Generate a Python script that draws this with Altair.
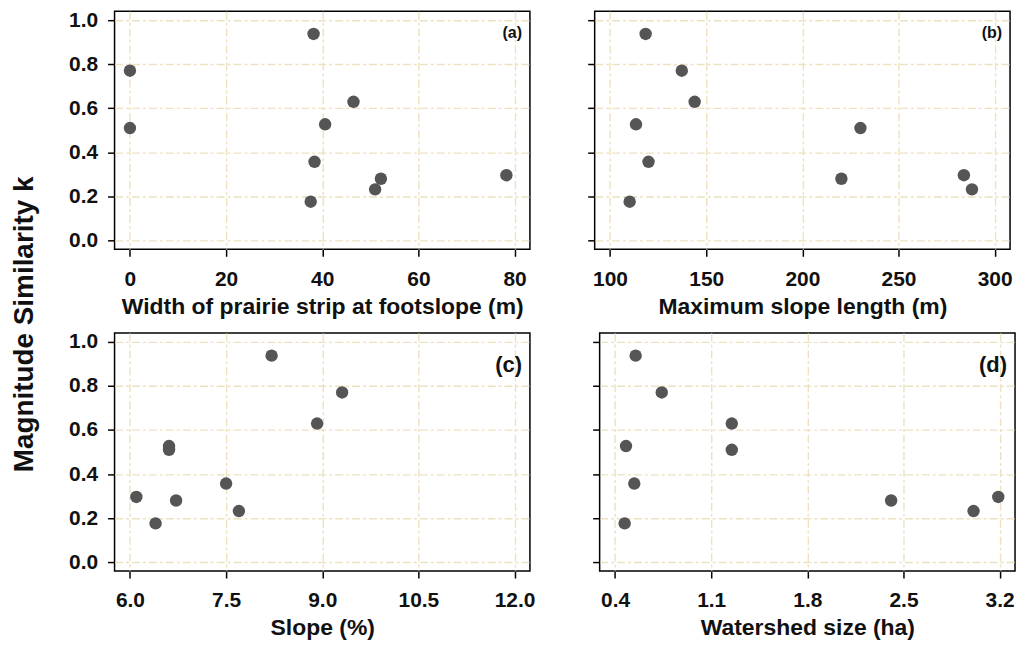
import altair as alt
import pandas as pd

# ---- data ----
k_values = [0.937, 0.770, 0.629, 0.527, 0.510, 0.357, 0.296, 0.280, 0.232, 0.176]
strip_width = [38.2, 0.0, 46.5, 40.6, 0.0, 38.4, 78.3, 52.2, 51.0, 37.6]
slope_length = [118.5, 137.3, 144.0, 113.5, 230.2, 120.0, 284.0, 220.3, 288.2, 110.2]
slope_pct = [8.21, 9.31, 8.92, 6.61, 6.61, 7.50, 6.10, 6.72, 7.70, 6.40]
watershed_ha = [0.55, 0.74, 1.25, 0.48, 1.25, 0.54, 3.19, 2.41, 3.01, 0.47]

panel_labels = ["(a)", "(b)", "(c)", "(d)"]
x_titles = [
    "Width of prairie strip at footslope (m)",
    "Maximum slope length (m)",
    "Slope (%)",
    "Watershed size (ha)",
]
x_ticks = [
    [0, 20, 40, 60, 80],
    [100, 150, 200, 250, 300],
    [6.0, 7.5, 9.0, 10.5, 12.0],
    [0.4, 1.1, 1.8, 2.5, 3.2],
]
x_formats = ["d", "d", ".1f", ".1f"]
y_ticks = [0.0, 0.2, 0.4, 0.6, 0.8, 1.0]

df = pd.DataFrame({
    "k": k_values,
    "a": strip_width,
    "b": slope_length,
    "c": slope_pct,
    "d": watershed_ha,
})

FONT = "Liberation Sans"
W, H = 417, 239


def panel(col, idx, show_y_labels, lab_size, lab_y):
    xt = x_ticks[idx]
    lo, hi = xt[0], xt[-1]
    pad = 0.04 * (hi - lo)
    x = alt.X(
        f"{col}:Q",
        scale=alt.Scale(domain=[lo - pad, hi + pad], nice=False, zero=False),
        axis=alt.Axis(values=xt, format=x_formats[idx], title=x_titles[idx]),
    )
    y = alt.Y(
        "k:Q",
        scale=alt.Scale(domain=[-0.04, 1.04], nice=False, zero=False),
        axis=alt.Axis(values=y_ticks, format=".1f", title=None, labels=show_y_labels),
    )
    pts = alt.Chart(df).mark_circle(size=155, color="#555555", opacity=1).encode(x=x, y=y)
    txt = alt.Chart(pd.DataFrame({"t": [panel_labels[idx]]})).mark_text(
        align="right", baseline="middle", font=FONT, fontWeight="bold",
        fontSize=lab_size, color="#111111",
    ).encode(text="t:N", x=alt.value(W - 8), y=alt.value(lab_y))
    return alt.layer(pts, txt).properties(width=W, height=H)


pa = panel("a", 0, True, 16, 22)
pb = panel("b", 1, False, 16, 22)
pc = panel("c", 2, True, 22, 32)
pd_ = panel("d", 3, False, 22, 32)

chart = alt.vconcat(
    alt.hconcat(pa, pb, spacing=55),
    alt.hconcat(pc, pd_, spacing=55),
    spacing=11,
).properties(
    title=alt.TitleParams(
        "Magnitude Similarity k", orient="left", anchor="middle",
        font=FONT, fontSize=28, fontWeight="bold", color="#111111", offset=29,
    ),
    padding={"left": 11, "top": 7, "right": 5, "bottom": 5},
).configure_view(
    stroke="black", strokeWidth=1.5
).configure_axis(
    domain=False,
    grid=True,
    gridColor="#ECE2C0",
    gridDash=[8, 3, 3, 3],
    gridWidth=1.4,
    ticks=True,
    tickSize=7,
    tickColor="black",
    tickWidth=1.5,
    labelFont=FONT,
    labelFontWeight="bold",
    labelFontSize=21,
    labelColor="#111111",
    titleFont=FONT,
    titleFontWeight="bold",
    titleFontSize=23,
    titleColor="#111111",
).configure_axisX(
    labelPadding=12, titlePadding=6,
).configure_axisY(
    labelPadding=10,
)

chart.save("out.html", embed_options={"renderer": "svg", "actions": False})
